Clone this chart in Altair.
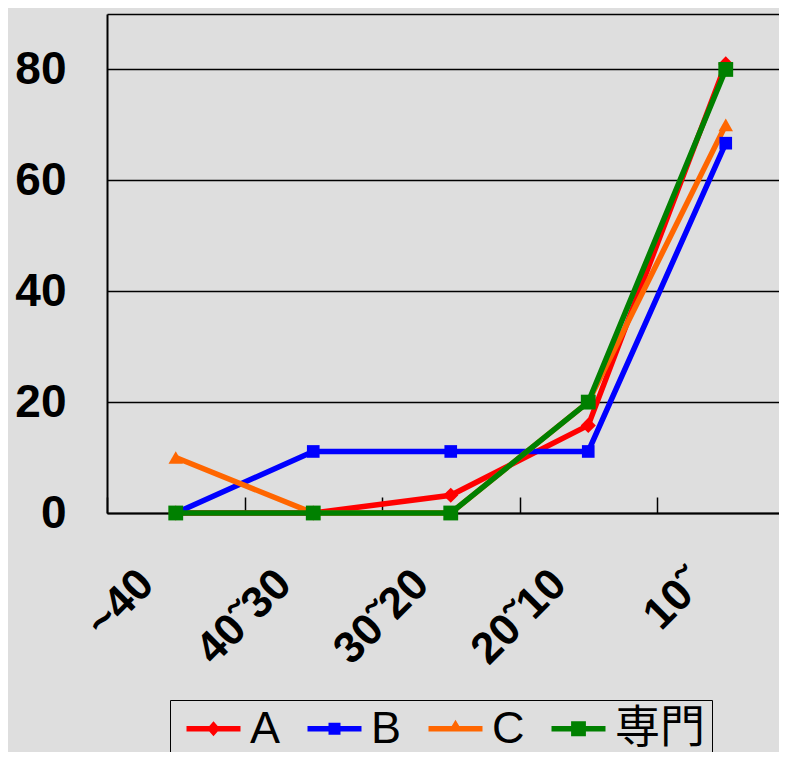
import altair as alt
import pandas as pd

categories = ["~40", "40˜30", "30˜20", "20˜10", "10˜"]
series = ["A", "B", "C", "専門"]
values_A = [0, 0, 3.2, 15.8, 81]
values_B = [0, 11.1, 11.1, 11.1, 66.7]
values_C = [10, 0, 0, 20, 70]
values_S = [0, 0, 0, 20, 80]
y_ticks = [0, 20, 40, 60, 80, 90]

colors = ["#ff0000", "#0000ff", "#ff6600", "#008000"]
plot_shapes = ["diamond", "square", "triangle-up", "square"]
plot_sizes = [230, 160, 210, 220]
LINE = "M-1.35,-0.14L1.35,-0.14L1.35,0.14L-1.35,0.14Z"
legend_paths = [
    LINE + "M0,-0.38L0.33,0L0,0.38L-0.33,0Z",
    LINE + "M-0.3,-0.3L0.3,-0.3L0.3,0.3L-0.3,0.3Z",
    LINE + "M0,-0.45L0.35,0.14L-0.35,0.14Z",
    LINE + "M-0.37,-0.37L0.37,-0.37L0.37,0.37L-0.37,0.37Z",
]

rows = []
for s, vals in zip(series, [values_A, values_B, values_C, values_S]):
    for c, v in zip(categories, vals):
        rows.append({"cat": c, "series": s, "value": v})
df = pd.DataFrame(rows)

FONT = "'Liberation Sans', 'Noto Sans CJK JP', sans-serif"

xscale = alt.Scale(type="band", domain=categories, range=[0, 687.5], paddingInner=0, paddingOuter=0)
yscale = alt.Scale(domain=[0, 90], nice=False, zero=True)
color_scale = alt.Scale(domain=series, range=colors)
shape_scale = alt.Scale(domain=series, range=legend_paths)

base = alt.Chart(df)

bottom_axis = alt.Axis(
    orient="bottom", title=None, labelAngle=-45, labelAlign="right", labelBaseline="middle",
    labelPadding=64, labelOffset=-29, labelFontSize=44, labelFontWeight="bold", labelFont=FONT,
    labelColor="black", ticks=False, domainColor="black", domainWidth=2, grid=False,
    labelOverlap=False, labelBound=False, labelFlush=False,
)
top_axis = alt.Axis(
    orient="top", offset=-499, title=None, labels=False, domain=False, ticks=True,
    tickBand="extent", tickSize=16, tickColor="black", tickWidth=1.5, grid=False,
)
y_axis = alt.Axis(
    title=None, values=y_ticks, labelExpr="datum.value == 90 ? '' : datum.label",
    labelFontSize=46, labelFontWeight="bold", labelFont=FONT, labelColor="black",
    labelPadding=41, ticks=False, domainColor="black", domainWidth=2, grid=True,
    gridColor="black", gridWidth=1.3, gridOpacity=1, labelBound=False,
)

leg = alt.Legend(
    title=None, orient="none", legendX=63, legendY=686, direction="horizontal",
    symbolSize=1600, symbolStrokeWidth=0, symbolOpacity=1, labelFontSize=45, labelFont=FONT,
    labelColor="black", labelOffset=14, columnPadding=16, padding=6, symbolOffset=15,
    strokeColor="black",
)

lines = base.mark_line(strokeWidth=5.5).encode(
    x=alt.X("cat:N", scale=xscale, sort=categories, axis=bottom_axis),
    y=alt.Y("value:Q", scale=yscale, axis=y_axis),
    color=alt.Color("series:N", scale=color_scale, legend=leg),
)

pts = []
for i, (s, shp, sz) in enumerate(zip(series, plot_shapes, plot_sizes)):
    pts.append(
        base.transform_filter(alt.datum.series == s)
        .mark_point(shape=shp, size=sz, filled=True, opacity=1, strokeWidth=0)
        .encode(
            x=alt.X("cat:N", scale=xscale, sort=categories, axis=top_axis if i == 0 else None),
            y=alt.Y("value:Q", scale=yscale, axis=y_axis),
            color=alt.Color("series:N", scale=color_scale, legend=leg),
        )
    )

legend_layer = (
    base.transform_filter("false")
    .mark_point(filled=True, opacity=1)
    .encode(
        x=alt.X("cat:N", scale=xscale, sort=categories, axis=None),
        y=alt.Y("value:Q", scale=yscale, axis=y_axis),
        color=alt.Color("series:N", scale=color_scale, legend=leg),
        shape=alt.Shape("series:N", scale=shape_scale, legend=leg),
    )
)

chart = (
    alt.layer(lines, *pts, legend_layer)
    .resolve_axis(x="independent")
    .properties(
        width=672, height=499,
        padding={"left": 99, "top": 6, "right": 0, "bottom": 239},
        autosize=alt.AutoSizeParams(type="none"),
        background="#dedede",
    )
    .configure_view(stroke="transparent")
)

chart.save("out.html", embed_options={"renderer": "svg", "actions": False})
